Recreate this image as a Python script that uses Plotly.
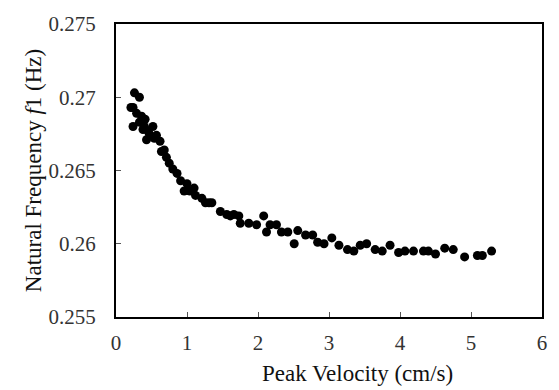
import plotly.graph_objects as go

peak_velocity = [0.21, 0.24, 0.24, 0.26, 0.29, 0.33, 0.33, 0.36, 0.38, 0.40, 0.41, 0.43,
                 0.45, 0.47, 0.52, 0.54, 0.57, 0.62, 0.64, 0.68, 0.71, 0.75, 0.80, 0.86,
                 0.91, 0.96, 1.00, 1.04, 1.10, 1.12, 1.21, 1.26, 1.31, 1.35, 1.47, 1.56,
                 1.61, 1.66, 1.73, 1.75, 1.87, 1.98, 2.08, 2.12, 2.17, 2.26, 2.33, 2.42,
                 2.51, 2.56, 2.67, 2.77, 2.84, 2.93, 3.04, 3.14, 3.26, 3.35, 3.44, 3.53,
                 3.65, 3.75, 3.86, 3.98, 4.07, 4.19, 4.33, 4.40, 4.50, 4.63, 4.75, 4.91,
                 5.09, 5.16, 5.29]
natural_freq = [0.2693, 0.2680, 0.2693, 0.2703, 0.2689, 0.2700, 0.2683, 0.2687, 0.2678, 0.2680, 0.2685, 0.2671,
                0.2677, 0.2675, 0.2680, 0.2672, 0.2674, 0.2670, 0.2663, 0.2664, 0.2659, 0.2655, 0.2651, 0.2648,
                0.2643, 0.2636, 0.2641, 0.2636, 0.2638, 0.2633, 0.2631, 0.2628, 0.2628, 0.2628, 0.2622, 0.2620,
                0.2619, 0.2620, 0.2619, 0.2614, 0.2614, 0.2613, 0.2619, 0.2608, 0.2613, 0.2613, 0.2608, 0.2608,
                0.2600, 0.2609, 0.2606, 0.2606, 0.2601, 0.2600, 0.2604, 0.2599, 0.2596, 0.2595, 0.2599, 0.2600,
                0.2596, 0.2595, 0.2599, 0.2594, 0.2595, 0.2595, 0.2595, 0.2595, 0.2593, 0.2597, 0.2596, 0.2591,
                0.2592, 0.2592, 0.2595]

x_ticks = [0, 1, 2, 3, 4, 5, 6]
y_ticks = [0.255, 0.26, 0.265, 0.27, 0.275]
y_tick_labels = ["0.255", "0.26", "0.265", "0.27", "0.275"]
x_title = "Peak Velocity (cm/s)"
y_title = "Natural Frequency <i>f</i>1 (Hz)"

font_family = "Times New Roman, Liberation Serif, DejaVu Serif, serif"

fig = go.Figure(go.Scatter(
    x=peak_velocity, y=natural_freq, mode="markers",
    marker=dict(color="black", size=9, line=dict(width=0)),
    showlegend=False,
))

fig.update_layout(
    width=559, height=390,
    margin=dict(l=116, r=12, t=16, b=73),
    paper_bgcolor="white", plot_bgcolor="white",
    font=dict(family=font_family, size=21, color="#222"),
)
fig.update_xaxes(
    range=[0, 6], tickvals=x_ticks, ticks="inside", ticklen=5, tickwidth=1, tickcolor="#555",
    ticklabelstandoff=6,
    showline=True, linecolor="black", linewidth=2, mirror=True, showgrid=False, zeroline=False,
    tickfont=dict(family=font_family, size=21, color="#333"),
)
fig.update_yaxes(
    range=[0.255, 0.275], tickvals=y_ticks, ticktext=y_tick_labels, ticks="inside", ticklen=5,
    tickwidth=1, tickcolor="#555", ticklabelstandoff=14,
    showline=True, linecolor="black", linewidth=2, mirror=True, showgrid=False, zeroline=False,
    title=dict(text=y_title, font=dict(family=font_family, size=23, color="#111"), standoff=0),
    tickfont=dict(family=font_family, size=21, color="#333"),
)
fig.add_annotation(
    text=x_title, xref="paper", yref="paper", x=0.568, y=-0.193,
    xanchor="center", yanchor="middle", showarrow=False,
    font=dict(family=font_family, size=23, color="#111"),
)

fig.write_html("out.html")
